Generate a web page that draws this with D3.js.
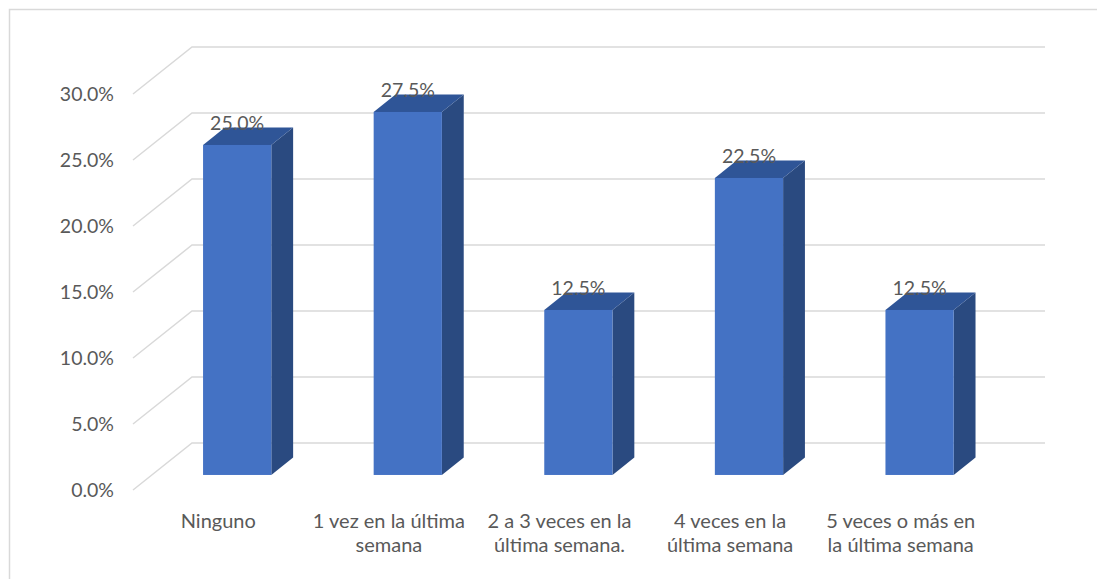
<!DOCTYPE html>
<html>
<head>
<meta charset="utf-8">
<script src="https://cdn.jsdelivr.net/npm/d3@7"></script>
<style>
  body { margin: 0; background: #fff; }
  svg { display: block; }
  text { font-family: Lato, "Open Sans", sans-serif; fill: #595959; }
</style>
</head>
<body>
<svg></svg>
<script>
var categories = [
    ["Ninguno"],
    ["1 vez en la última", "semana"],
    ["2 a 3 veces en la", "última semana."],
    ["4 veces en la", "última semana"],
    ["5 veces o más en", "la última semana"]
];
var values = [25.0, 27.5, 12.5, 22.5, 12.5];
var ticks = [0, 5, 10, 15, 20, 25, 30];

var width = 1097;
var height = 579;

var colors = { front: "#4472C4", top: "#2F5597", side: "#2A4A80", grid: "#D9D9D9" };

// floor depth vector (front edge -> back wall)
var depth_x = 59;
var depth_y = -47;
// bars sit between these fractions of the depth
var bar_z0 = 0.32;
var bar_z1 = 0.69;

var left = 133;
var plot_width = 853;

var svg = d3.select("svg")
    .attr("width", width)
    .attr("height", height);

// chart frame
svg.append("rect")
    .attr("x", 9.5)
    .attr("y", 9.5)
    .attr("width", 1200)
    .attr("height", 700)
    .attr("fill", "none")
    .attr("stroke", colors.grid)
    .attr("stroke-width", 1.5);

var yScale = d3.scaleLinear().domain([0, 30]).range([490, 94]);
var xScale = d3.scaleBand()
    .domain(d3.range(categories.length))
    .range([left, left + plot_width]);

// gridlines: diagonal on the floor side, then flat across the back wall
svg.append("g")
    .selectAll("path")
    .data(ticks)
    .enter()
    .append("path")
    .attr("d", function(d) {
        var y = yScale(d);
        return "M" + left + "," + y +
            "L" + (left + depth_x) + "," + (y + depth_y) +
            "L" + (left + depth_x + plot_width) + "," + (y + depth_y);
    })
    .attr("fill", "none")
    .attr("stroke", colors.grid)
    .attr("stroke-width", 1.5);

// y axis labels
svg.append("g")
    .selectAll("text")
    .data(ticks)
    .enter()
    .append("text")
    .attr("x", left - 19)
    .attr("y", d => yScale(d))
    .attr("dy", "0.35em")
    .attr("text-anchor", "end")
    .style("font-size", "19.5px")
    .text(d => d3.format(".1f")(d) + "%");

var bar_w = xScale.bandwidth() * 0.4;
var fx = depth_x * bar_z0, fy = depth_y * bar_z0;
var sx = depth_x * (bar_z1 - bar_z0), sy = depth_y * (bar_z1 - bar_z0);

var bars = svg.append("g")
    .selectAll("g")
    .data(values)
    .enter()
    .append("g")
    .attr("transform", (d, i) => "translate(" + (xScale(i) + xScale.bandwidth() / 2 - bar_w / 2 + fx) + "," + fy + ")");

bars.append("path")
    .attr("fill", colors.side)
    .attr("d", function(d) {
        var y0 = yScale(0), y1 = yScale(d);
        return "M" + bar_w + "," + y0 + "L" + (bar_w + sx) + "," + (y0 + sy) +
            "L" + (bar_w + sx) + "," + (y1 + sy) + "L" + bar_w + "," + y1 + "Z";
    });

bars.append("path")
    .attr("fill", colors.top)
    .attr("d", function(d) {
        var y1 = yScale(d);
        return "M0," + y1 + "L" + sx + "," + (y1 + sy) +
            "L" + (bar_w + sx) + "," + (y1 + sy) + "L" + bar_w + "," + y1 + "Z";
    });

bars.append("rect")
    .attr("fill", colors.front)
    .attr("x", 0)
    .attr("y", d => yScale(d))
    .attr("width", bar_w)
    .attr("height", d => yScale(0) - yScale(d));

// value labels
bars.append("text")
    .attr("x", bar_w / 2)
    .attr("y", d => yScale(d) + sy + 2)
    .attr("text-anchor", "middle")
    .style("font-size", "19.5px")
    .text(d => d3.format(".1f")(d) + "%");

// category labels
var cat = svg.append("g")
    .selectAll("text")
    .data(categories)
    .enter()
    .append("text")
    .attr("text-anchor", "middle")
    .style("font-size", "20px")
    .attr("transform", (d, i) => "translate(" + (xScale(i) + xScale.bandwidth() / 2) + ",528)");

cat.selectAll("tspan")
    .data(d => d)
    .enter()
    .append("tspan")
    .attr("x", 0)
    .attr("dy", (d, i) => i == 0 ? 0 : 24)
    .text(d => d);
</script>
</body>
</html>
